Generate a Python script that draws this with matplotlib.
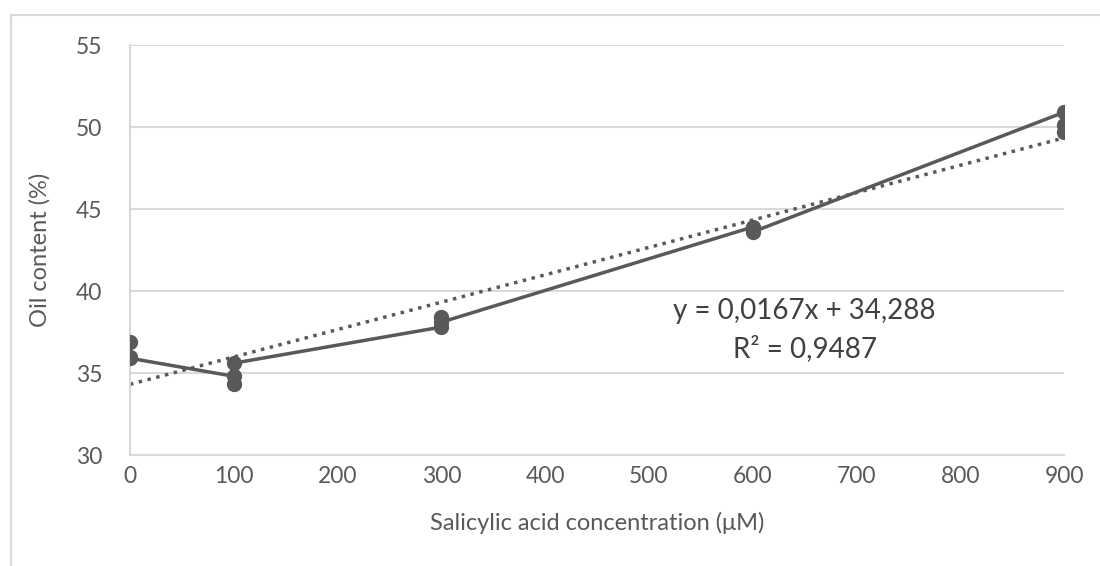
import numpy as np
import matplotlib
matplotlib.use("Agg")
import matplotlib.pyplot as plt
from matplotlib.patches import Rectangle

plt.rcParams['font.family'] = ['Lato', 'DejaVu Sans']

# replicate measurements, in the order the line joins them
conc = [0, 0, 0, 100, 100, 100, 300, 300, 300, 600, 600, 600, 900, 900, 900]
oil = [36.9, 36.0, 35.9, 34.8, 34.3, 35.6, 37.8, 38.4, 38.1, 43.9, 43.8, 43.6, 50.9, 50.1, 49.7]

xticks = [0, 100, 200, 300, 400, 500, 600, 700, 800, 900]
yticks = [30, 35, 40, 45, 50, 55]
eq_text = "y = 0,0167x + 34,288\nR² = 0,9487"

grey = '#595959'
grid_col = '#d9d9d9'

fig = plt.figure(figsize=(11, 5.66), dpi=100)
ax = fig.add_axes([130/1100, 1-455/566, 934/1100, 410/566])

# outer chart border (cropped on the right and bottom)
fig.patches.append(Rectangle((11/1100, -0.1), 1.2, 1-15/566+0.1, transform=fig.transFigure,
                             fill=False, edgecolor=grid_col, linewidth=1.5))

ax.plot(conc, oil, color=grey, linewidth=2.5, marker='o', markersize=10,
        markerfacecolor=grey, markeredgecolor=grey, zorder=3)

# linear trendline
k, b = np.polyfit(conc, oil, 1)
xs = np.array([0, 900])
ax.plot(xs, k*xs + b, color=grey, linestyle=(0, (1, 1.6)), linewidth=2.5, zorder=2)

ax.text(650, 37.6, eq_text, ha='center', va='center', fontsize=20,
        color='#404040', linespacing=1.5)

ax.set_xlim(0, 900)
ax.set_ylim(30, 55)
ax.set_xticks(xticks)
ax.set_yticks(yticks)
ax.yaxis.grid(True, color=grid_col, linewidth=1.5)
ax.set_axisbelow(True)
for s in ['top', 'right']:
    ax.spines[s].set_visible(False)
for s in ['left', 'bottom']:
    ax.spines[s].set_color(grid_col)
    ax.spines[s].set_linewidth(1.5)
ax.tick_params(length=0, labelsize=16.5, labelcolor=grey)
ax.tick_params(axis='y', pad=20)
ax.tick_params(axis='x', pad=8)

ax.set_xlabel("Salicylic acid concentration (μM)", fontsize=17, color=grey, labelpad=18)
ax.set_ylabel("Oil content (%)", fontsize=17, color=grey, labelpad=18)

fig.savefig("out.png", dpi=100, facecolor='white')
